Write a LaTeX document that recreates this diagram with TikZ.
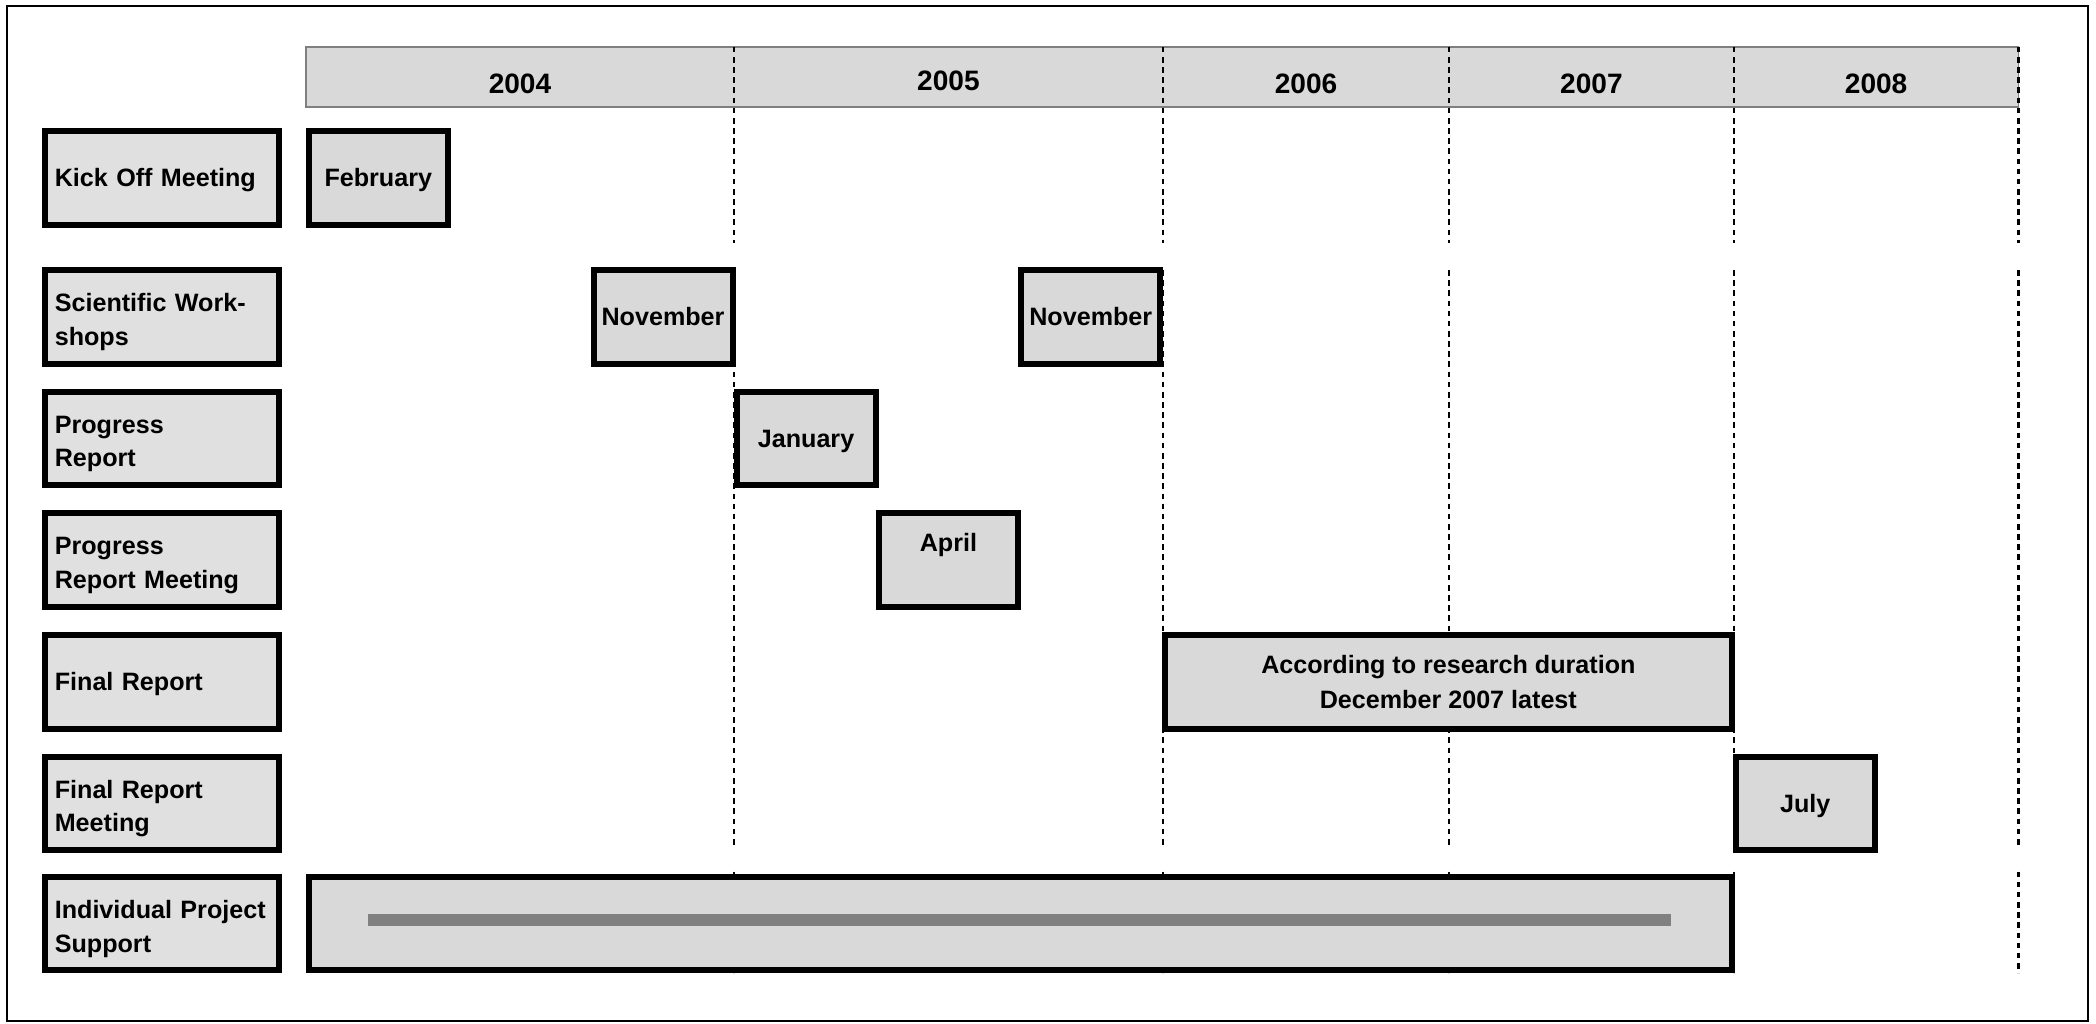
\documentclass[tikz,border=0pt]{standalone}
\usepackage{fontspec}
\setmainfont{Liberation Sans}
\definecolor{boxgray}{HTML}{D9D9D9}
\definecolor{labelgray}{HTML}{E0E0E0}
\definecolor{bargray}{HTML}{808080}
\definecolor{rulegray}{HTML}{7F7F7F}
\begin{document}
\begin{tikzpicture}[x=0.5pt,y=-0.5pt,
    font=\bfseries\fontsize{9.4}{12.5}\selectfont,
    rowlabel/.style={draw,line width=2.25pt,fill=labelgray,minimum width=87.5pt,
      minimum height=35pt,inner xsep=3.5pt,inner ysep=0pt,text width=80.5pt,
      text depth=-3pt,align=left},
    twoline/.style={text depth=10.5pt},
    event/.style={draw,line width=2.25pt,fill=boxgray,minimum width=52pt,
      minimum height=35pt,inner sep=0pt,text depth=-3pt,align=center},
    yearbar/.style={draw=rulegray,line width=0.6pt,fill=boxgray,minimum width=640.5pt,
      minimum height=22.5pt,inner sep=0pt},
    year/.style={font=\bfseries\fontsize{10.5}{12}\selectfont},
    grid/.style={line width=0.75pt,dash pattern=on 2.1pt off 1.7pt}]
  \useasboundingbox (0,0) rectangle (1568,766);
  \draw[line width=0.75pt] (5.5,4.5) rectangle (1562,763.5);

  % years
  \node[yearbar] (header) at (869.5,57.5) {};
  \node[year] (y2004) at (389,62.5) {2004};
  \node[year] (y2005) at (709.5,60.5) {2005};
  \node[year] (y2006) at (977,62.5) {2006};
  \node[year] (y2007) at (1190.5,62.5) {2007};
  \node[year] (y2008) at (1403.5,62.5) {2008};

  \foreach \x in {549,870,1084,1297,1510} {
    \draw[grid] (\x,35) -- (\x,182);
    \draw[grid] (\x,202) -- (\x,634);
    \draw[grid] (\x,652) -- (\x,728);
  }

  % row labels
  \node[rowlabel] (kick) at (121.5,133) {Kick Off Meeting};
  \node[rowlabel,twoline] (workshop) at (121.5,237) {Scientific Work-\\shops};
  \node[rowlabel,twoline] (report) at (121.5,328) {Progress\\Report};
  \node[rowlabel,twoline] (meeting) at (121.5,419) {Progress\\Report Meeting};
  \node[rowlabel] (final) at (121.5,510) {Final Report};
  \node[rowlabel,twoline] (finalmeet) at (121.5,601) {Final Report\\Meeting};
  \node[rowlabel,twoline] (support) at (121.5,691) {Individual Project\\Support};

  % events
  \node[event] (feb) at (283,133) {February};
  \node[event] (nov1) at (496,237) {November};
  \node[event] (nov2) at (816,237) {November};
  \node[event] (jan) at (603,328) {January};
  \node[event] (apr) at (709.5,419) {};
  \node (aprtext) at ([yshift=5.5pt]apr.center) {April};
  \node[event,minimum width=212.25pt,text depth=0pt,
    font=\bfseries\fontsize{9.4}{13}\selectfont]
    (duration) at (1083.5,510) {According to research duration\\December 2007 latest};
  \node[event] (jul) at (1350.5,601) {July};
  \node[event,minimum width=532.25pt] (projects) at (763.5,691) {};
  \fill[bargray] (275,684) rectangle (1250,693);
\end{tikzpicture}
\end{document}
